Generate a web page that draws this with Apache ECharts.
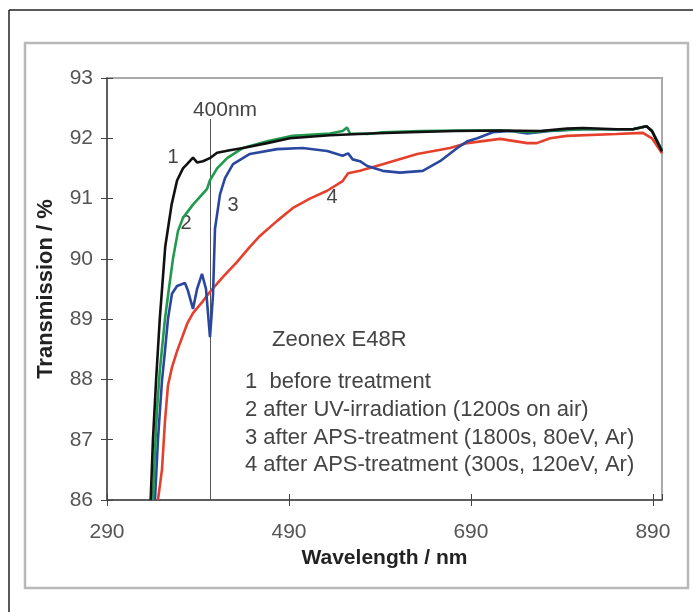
<!DOCTYPE html>
<html><head><meta charset="utf-8">
<script src="https://cdn.jsdelivr.net/npm/echarts@6/dist/echarts.min.js"></script>
<style>html,body{margin:0;padding:0;background:#fff}#c{width:693px;height:612px}</style>
</head><body><div id="c"></div>
<script>
// ---- data ----
const xTicks = [290, 490, 690, 890];
const yTicks = [86, 87, 88, 89, 90, 91, 92, 93];

const wl1 = [338, 340.5, 344, 346, 348, 351.5, 354, 361, 367, 373.5, 378, 384.5, 389, 395.5, 403, 411, 425, 439.5, 466, 491, 535, 579, 623, 672, 722, 766, 795.5, 813, 850, 868, 883, 889, 900];
const tr1 = [86, 87, 88, 88.5, 89, 89.7, 90.2, 90.9, 91.3, 91.5, 91.57, 91.68, 91.6, 91.62, 91.67, 91.76, 91.8, 91.84, 91.92, 92.0, 92.05, 92.08, 92.1, 92.12, 92.13, 92.12, 92.16, 92.17, 92.15, 92.15, 92.2, 92.12, 91.78];

const wl2 = [340.5, 342.7, 345, 348, 353.7, 358, 362.5, 368, 373.5, 384.5, 400, 403, 411, 422, 439.5, 466, 494, 535, 549, 553.7, 557, 576, 593, 634, 678, 722, 758, 777, 813, 868, 883, 889, 900];
const tr2 = [86, 86.8, 87.5, 88.14, 89.0, 89.5, 90.0, 90.46, 90.68, 90.9, 91.16, 91.3, 91.5, 91.67, 91.84, 91.95, 92.04, 92.08, 92.12, 92.18, 92.08, 92.07, 92.1, 92.12, 92.13, 92.13, 92.1, 92.13, 92.15, 92.15, 92.2, 92.12, 91.8];

const wl3 = [342.7, 346, 350.4, 353.7, 357, 361.4, 367, 375.7, 379, 384.5, 389, 394.4, 398.8, 401, 403.2, 404.3, 406.5, 408.7, 414.2, 419.7, 428.5, 447, 477, 505, 532, 549, 555, 560, 568, 576, 593, 612, 637, 656, 675, 686, 697, 714, 733, 752, 777, 813, 868, 883, 889, 900];
const tr3 = [86, 87, 87.97, 88.47, 89.0, 89.42, 89.55, 89.6, 89.47, 89.17, 89.5, 89.75, 89.5, 89.1, 88.7, 88.7, 89.4, 90.5, 91.07, 91.34, 91.57, 91.74, 91.82, 91.84, 91.79, 91.71, 91.75, 91.65, 91.62, 91.54, 91.46, 91.43, 91.46, 91.62, 91.84, 91.95, 92.0, 92.1, 92.12, 92.08, 92.12, 92.15, 92.15, 92.2, 92.12, 91.8];

const wl4 = [346, 350.4, 353.7, 357, 361.4, 367, 378, 384.5, 395.5, 403, 417.5, 433, 447, 458, 477, 494, 513, 532, 549, 555, 568, 593, 631, 667, 686, 722, 752, 762.5, 777, 795.5, 850, 879, 889, 900];
const tr4 = [86, 86.5, 87.3, 87.9, 88.2, 88.47, 88.92, 89.1, 89.3, 89.45, 89.7, 89.95, 90.2, 90.38, 90.63, 90.84, 91.0, 91.13, 91.29, 91.42, 91.46, 91.57, 91.74, 91.84, 91.92, 91.99, 91.92, 91.92, 92.0, 92.04, 92.07, 92.09, 92.0, 91.75];

const seriesNames = ['1', '2', '3', '4'];
const legendLines = [
  '1  before treatment',
  '2 after UV-irradiation (1200s on air)',
  '3 after APS-treatment (1800s, 80eV, Ar)',
  '4 after APS-treatment (300s, 120eV, Ar)'
];
const sampleName = 'Zeonex E48R';
const markerWl = 403;          // "400nm" guide line position
const markerTop = 92.32;
const markerLabel = '400nm';

// ---- chart ----
const FONT = '"Liberation Sans", Arial, sans-serif';
const colors = ['#111111', '#1f9a4e', '#2a47a0', '#e5402b'];
function pairs(w, t) { return w.map((x, i) => [x, t[i]]); }
const dataSets = [pairs(wl1, tr1), pairs(wl2, tr2), pairs(wl3, tr3), pairs(wl4, tr4)];

const chart = echarts.init(document.getElementById('c'), null, { renderer: 'canvas' });

const series = dataSets.map((d, i) => ({
  name: seriesNames[i],
  type: 'line',
  data: d,
  showSymbol: false,
  smooth: false,
  z: 10 - i,
  lineStyle: { color: colors[i], width: 2.6 }
}));
series[0].markLine = {
  silent: true,
  symbol: ['none', 'none'],
  lineStyle: { color: '#555', width: 1, type: 'solid' },
  label: { show: false },
  data: [[{ coord: [markerWl, markerTop] }, { coord: [markerWl, 86] }]]
};

const legendTop = [382, 410, 438, 465];
const graphic = [
  { type: 'rect', shape: { x: 25, y: 43, width: 663, height: 545 }, style: { fill: 'none', stroke: '#b8b8b8', lineWidth: 2.5 }, z: 0 },
  { type: 'line', shape: { x1: 9, y1: 10, x2: 693, y2: 10 }, style: { stroke: '#222', lineWidth: 1.5 } },
  { type: 'line', shape: { x1: 9, y1: 10, x2: 9, y2: 612 }, style: { stroke: '#222', lineWidth: 1.5 } },
  { type: 'text', x: 225, y: 110, style: { text: markerLabel, font: '21px ' + FONT, fill: '#444', align: 'center', verticalAlign: 'middle' } },
  { type: 'text', x: 173, y: 157, style: { text: '1', font: '20px ' + FONT, fill: '#444', align: 'center', verticalAlign: 'middle' } },
  { type: 'text', x: 186, y: 223, style: { text: '2', font: '20px ' + FONT, fill: '#444', align: 'center', verticalAlign: 'middle' } },
  { type: 'text', x: 233, y: 205, style: { text: '3', font: '20px ' + FONT, fill: '#444', align: 'center', verticalAlign: 'middle' } },
  { type: 'text', x: 332, y: 197, style: { text: '4', font: '20px ' + FONT, fill: '#444', align: 'center', verticalAlign: 'middle' } },
  { type: 'text', x: 272, y: 340, style: { text: sampleName, font: '22px ' + FONT, fill: '#444', align: 'left', verticalAlign: 'middle' } }
];
legendLines.forEach((t, i) => {
  graphic.push({ type: 'text', x: 245, y: legendTop[i], style: { text: t, font: '22px ' + FONT, fill: '#444', align: 'left', verticalAlign: 'middle' } });
});

const xBase = { type: 'value', min: xTicks[0], max: 900, interval: xTicks[1] - xTicks[0], splitLine: { show: false } };
const yBase = { type: 'value', min: yTicks[0], max: yTicks[yTicks.length - 1], interval: 1, splitLine: { show: false } };

chart.setOption({
  animation: false,
  backgroundColor: '#fff',
  grid: { left: 107, right: 31, top: 78, bottom: 112, show: true, borderColor: '#aaa', borderWidth: 2, backgroundColor: 'transparent' },
  xAxis: [
    Object.assign({}, xBase, {
      name: 'Wavelength / nm', nameLocation: 'middle', nameGap: 48,
      nameTextStyle: { fontFamily: FONT, fontWeight: 'bold', fontSize: 21, color: '#222' },
      axisLine: { onZero: false, lineStyle: { color: '#444', width: 1.5 } },
      axisTick: { length: 6, lineStyle: { color: '#444' } },
      axisLabel: { fontFamily: FONT, fontSize: 21, color: '#555', margin: 22, showMaxLabel: false }
    }),
    Object.assign({}, xBase, {
      position: 'bottom',
      axisLine: { show: false, onZero: false },
      axisTick: { inside: true, length: 6, lineStyle: { color: '#444' } },
      axisLabel: { show: false }
    })
  ],
  yAxis: [
    Object.assign({}, yBase, {
      name: 'Transmission / %', nameLocation: 'middle', nameGap: 50,
      nameTextStyle: { fontFamily: FONT, fontWeight: 'bold', fontSize: 22, color: '#222' },
      axisLine: { onZero: false, lineStyle: { color: '#444', width: 1.5 } },
      axisTick: { length: 6, lineStyle: { color: '#444' } },
      axisLabel: { fontFamily: FONT, fontSize: 21, color: '#555', margin: 14 }
    }),
    Object.assign({}, yBase, {
      position: 'left',
      axisLine: { show: false, onZero: false },
      axisTick: { inside: true, length: 6, lineStyle: { color: '#444' } },
      axisLabel: { show: false }
    })
  ],
  series: series,
  graphic: graphic
});
</script>
</body></html>
